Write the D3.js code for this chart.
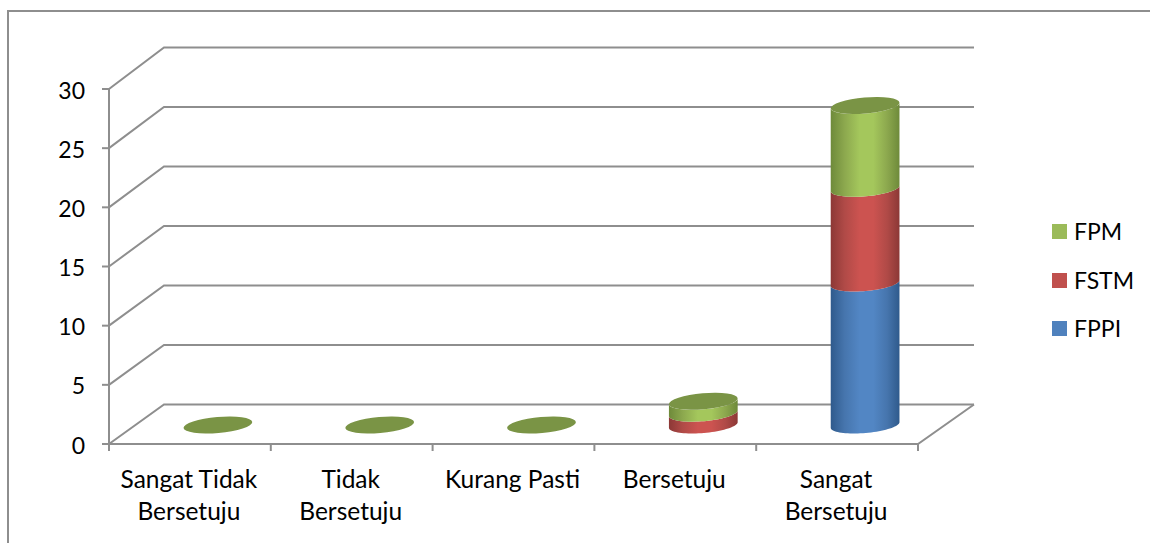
<!DOCTYPE html>
<html><head><meta charset="utf-8">
<script src="https://cdnjs.cloudflare.com/ajax/libs/d3/7.8.5/d3.min.js"></script>
<style>html,body{margin:0;padding:0;background:#fff}svg{display:block}text{font-family:Lato,"Open Sans",sans-serif;fill:#000}</style>
</head><body><svg id="c" width="1150" height="543"></svg>
<script>
const categories=[["Sangat Tidak","Bersetuju"],["Tidak","Bersetuju"],["Kurang Pasti"],["Bersetuju"],["Sangat","Bersetuju"]];
const seriesNames=["FPPI","FSTM","FPM"];
const FPPI=[0,0,0,0,12];
const FSTM=[0,0,0,1,8];
const FPM=[0,0,0,1,7];
const yTicks=[0,5,10,15,20,25,30];
const colors={FPPI:["#4f81bd","#2f5a8c","#4675ad"],FSTM:["#c0504d","#8c3836","#b04a47"],FPM:["#9bbb59","#6e8a3a","#8ca84e"]};
const brightMid={FPPI:"#5286c4",FSTM:"#cc5350",FPM:"#a4c75c"};
const topFill="#7a9445";

const svg=d3.select("#c");
const x=d3.scaleBand().domain(d3.range(categories.length)).range([109,918]);
const y=d3.scaleLinear().domain([0,30]).range([444,89]);
const yBack=d3.scaleLinear().domain([0,30]).range([404.5,47.5]);
const yBar=d3.scaleLinear().domain([0,30]).range([425,70]);
const dx=55;
const gridC="#8e8e8e";
const defs=svg.append("defs");
seriesNames.forEach(s=>{
  const g=defs.append("linearGradient").attr("id","g"+s).attr("gradientUnits","objectBoundingBox");
  [[0,colors[s][1]],[.2,colors[s][2]],[.42,brightMid[s]],[.62,brightMid[s]],[.82,colors[s][2]],[1,colors[s][1]]]
   .forEach(d=>g.append("stop").attr("offset",d[0]).attr("stop-color",d[1]));
});
svg.append("path").attr("d","M8,543V11H1150").attr("fill","none").attr("stroke",gridC).attr("stroke-width",2);
const grid=svg.append("g").attr("fill","none").attr("stroke",gridC).attr("stroke-width",2);
yTicks.forEach(t=>{
  grid.append("path").attr("d",d3.line()([[x.range()[0],y(t)],[x.range()[0]+dx,yBack(t)],[x.range()[1]+dx+1,yBack(t)]]));
  grid.append("line").attr("x1",102).attr("x2",109).attr("y1",y(t)).attr("y2",y(t));
});
grid.append("line").attr("x1",109).attr("x2",109).attr("y1",y(0)).attr("y2",y(30));
grid.append("path").attr("d",d3.line()([[x.range()[0],y(0)],[x.range()[1],y(0)],[x.range()[1]+dx+1,yBack(0)]]));
d3.range(categories.length+1).forEach(i=>{
  const px=i<categories.length?x(i):x.range()[1];
  grid.append("line").attr("x1",px).attr("x2",px).attr("y1",y(0)).attr("y2",y(0)+7);
});
svg.append("g").selectAll("text").data(yTicks).join("text")
  .attr("x",85).attr("y",d=>y(d)+9.5).attr("text-anchor","end").attr("font-size",23).text(d=>d);
categories.forEach((c,i)=>{
  c.forEach((l,j)=>svg.append("text").attr("x",x(i)+x.bandwidth()/2-1).attr("y",488+j*31.5)
   .attr("text-anchor","middle").attr("font-size",24.5).text(l));
});
const rx=34.5,ry=8,ang=-5*Math.PI/180;
const cx=i=>x(i)+x.bandwidth()/2+28;
const ePt=(c,yc,t)=>{
  const px=rx*Math.cos(t),py=ry*Math.sin(t);
  return [c+px*Math.cos(ang)-py*Math.sin(ang),yc+px*Math.sin(ang)+py*Math.cos(ang)];
};
const steps=d3.range(0,41).map(k=>k/40*Math.PI);
const line=d3.line();
const slice=(c,yTop,yBot)=>line([...steps.slice().reverse().map(t=>ePt(c,yTop,t)),...steps.map(t=>ePt(c,yBot,t))])+"Z";
const vals={FPPI,FSTM,FPM};
categories.forEach((c,i)=>{
  let acc=0;
  seriesNames.forEach(s=>{
    const v=vals[s][i];
    if(v>0){
      svg.append("path").attr("d",slice(cx(i),yBar(acc+v),yBar(acc))).attr("fill","url(#g"+s+")");
      acc+=v;
    }
  });
  svg.append("ellipse").attr("rx",rx).attr("ry",ry)
    .attr("transform",`translate(${cx(i)},${yBar(acc)}) rotate(-5)`).attr("fill",topFill);
});
const legY={FPM:232,FSTM:281,FPPI:329};
seriesNames.forEach(s=>{
  svg.append("rect").attr("x",1052).attr("y",legY[s]-8).attr("width",15).attr("height",15).attr("fill",colors[s][0]);
  svg.append("text").attr("x",1074).attr("y",legY[s]+8).attr("font-size",23).text(s);
});
</script></body></html>
